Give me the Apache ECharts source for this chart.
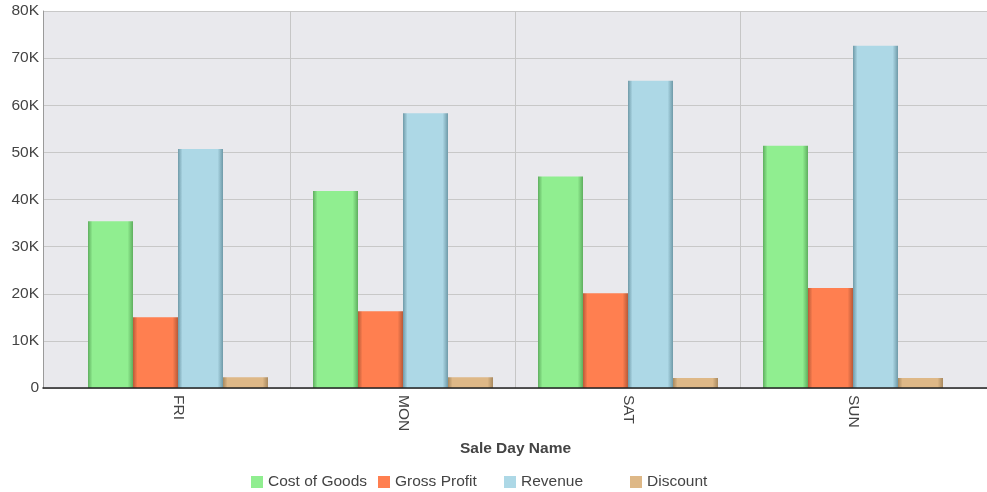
<!DOCTYPE html>
<html>
<head>
<meta charset="utf-8">
<script src="https://cdn.jsdelivr.net/npm/echarts@6/dist/echarts.min.js"></script>
<style>html,body{margin:0;padding:0;background:#fff;}#c{width:987px;height:492px;}</style>
</head>
<body>
<div id="c"></div>
<script>
const categories = ['FRI', 'MON', 'SAT', 'SUN'];
const costOfGoods = [35400, 41800, 44900, 51400];
const grossProfit = [15000, 16300, 20100, 21200];
const revenue = [50700, 58300, 65200, 72600];
const discount = [2300, 2300, 2100, 2100];
const seriesNames = ['Cost of Goods', 'Gross Profit', 'Revenue', 'Discount'];
const yTicks = [0, 10000, 20000, 30000, 40000, 50000, 60000, 70000, 80000];

function grad(dark, base) {
  return new echarts.graphic.LinearGradient(0, 0, 1, 0, [
    {offset: 0, color: dark},
    {offset: 0.1, color: base},
    {offset: 0.88, color: base},
    {offset: 1, color: dark}
  ]);
}
const styles = [
  {base: '#90ee90', dark: '#5fae5f'},
  {base: '#ff7f50', dark: '#b85a38'},
  {base: '#add8e6', dark: '#6f9aa8'},
  {base: '#deb887', dark: '#a8895f'}
];
const values = [costOfGoods, grossProfit, revenue, discount];
const legendLeft = [246, 373, 499, 625];
const FONT = 'Liberation Sans, Arial';

const chart = echarts.init(document.getElementById('c'));
chart.setOption({
  animation: false,
  grid: [
    {left: 43, right: 0, top: 11, bottom: 104, show: true, backgroundColor: '#e9e9ed', borderWidth: 0},
    {left: 65.5, right: 21.5, top: 11, bottom: 104}
  ],
  xAxis: [
    {gridIndex: 0, type: 'value', min: 0, max: 1, show: true, z: 20,
     axisLine: {show: true, onZero: false, lineStyle: {color: '#222', width: 1.5}},
     axisTick: {show: false}, axisLabel: {show: false}, splitLine: {show: false}},
    {gridIndex: 1, type: 'category', data: categories,
     axisLine: {show: false}, axisTick: {show: false},
     axisLabel: {rotate: -90, fontFamily: FONT, fontSize: 15.5, color: '#444', margin: 7},
     splitLine: {show: true, lineStyle: {color: ['transparent', '#c6c6c6', '#c6c6c6', '#c6c6c6', 'transparent'], width: 1}},
     name: 'Sale Day Name', nameLocation: 'middle', nameGap: 53,
     nameTextStyle: {fontFamily: FONT, fontSize: 15.5, fontWeight: 'bold', color: '#444'}}
  ],
  yAxis: [
    {gridIndex: 0, type: 'value', min: yTicks[0], max: yTicks[yTicks.length - 1], interval: 10000,
     axisLine: {show: true, lineStyle: {color: '#9a9a9a', width: 1}},
     axisTick: {show: false},
     axisLabel: {fontFamily: FONT, fontSize: 15.5, color: '#444', margin: 4,
       formatter: v => v === 0 ? '0' : (v / 1000) + 'K'},
     splitLine: {show: true, lineStyle: {color: '#c8c8c8', width: 1}}},
    {gridIndex: 1, type: 'value', min: yTicks[0], max: yTicks[yTicks.length - 1], interval: 10000,
     show: false, splitLine: {show: false}}
  ],
  legend: seriesNames.map((n, i) => ({
    left: legendLeft[i], top: 469, itemWidth: 12, itemHeight: 12, itemGap: 8,
    icon: 'rect',
    textStyle: {fontFamily: FONT, fontSize: 15.5, color: '#444'},
    data: [{name: n, itemStyle: {color: styles[i].base}}]
  })),
  series: seriesNames.map((n, i) => ({
    name: n, type: 'bar', xAxisIndex: 1, yAxisIndex: 1,
    data: values[i], barGap: '0%', barCategoryGap: '20%',
    itemStyle: {color: grad(styles[i].dark, styles[i].base)}
  }))
});
</script>
</body>
</html>
